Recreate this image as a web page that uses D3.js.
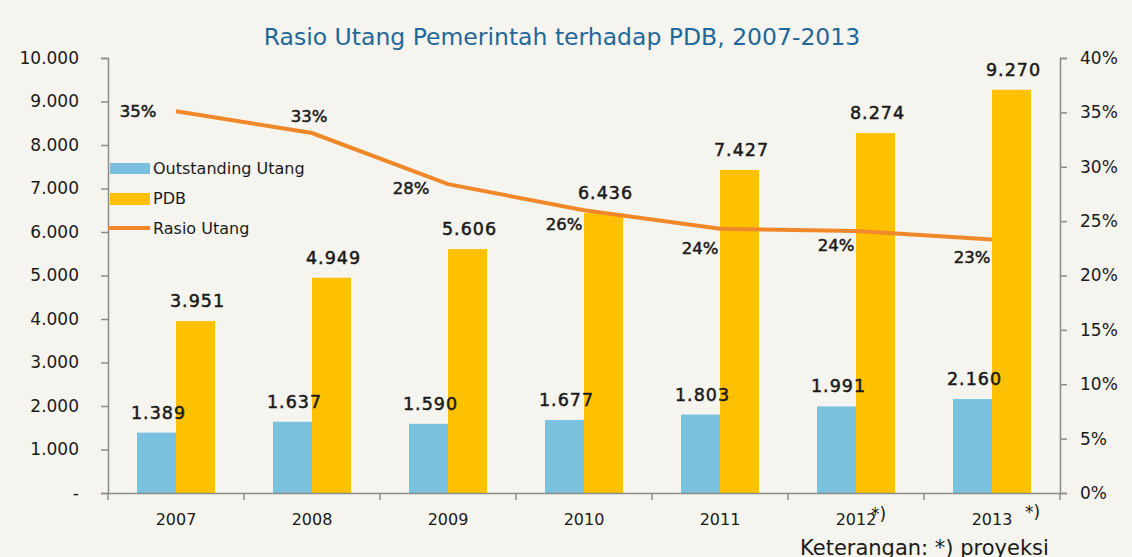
<!DOCTYPE html>
<html>
<head>
<meta charset="utf-8">
<script src="https://cdn.jsdelivr.net/npm/d3@7"></script>
<style>
  body { margin: 0; background: #f5f4ee; }
  svg { display: block; font-family: "DejaVu Sans", sans-serif; }
</style>
</head>
<body>
<script>
// data
const years = ["2007", "2008", "2009", "2010", "2011", "2012", "2013"];
const utang = [1389, 1637, 1590, 1677, 1803, 1991, 2160];
const pdb = [3951, 4949, 5606, 6436, 7427, 8274, 9270];
const rasio = [35.1, 33.1, 28.4, 26.0, 24.3, 24.1, 23.3];
const rasioLabels = ["35%", "33%", "28%", "26%", "24%", "24%", "23%"];
const leftTicks = [0, 1000, 2000, 3000, 4000, 5000, 6000, 7000, 8000, 9000, 10000];
const rightTicks = [0, 5, 10, 15, 20, 25, 30, 35, 40];
const projected = ["2012", "2013"];

const colors = {
    utang: "#7ac1df",
    pdb: "#ffc000",
    rasio: "#f0882a",
    axis: "#8c8c8c",
    title: "#1f6899",
    text: "#1a1a1a"
};

// where each percent label sits relative to its point
const pctOffsets = [[-38, 6], [-3, -11], [-37, 10], [-20, 20], [-20, 25], [-20, 20], [-20, 23]];
// where the "*)" marks sit relative to the band centre
const projOffsets = [[15, 520], [33, 518]];

function fmt(v) {
    return v === 0 ? "-" : d3.format(",")(v).replace(/,/g, ".");
}

function drawChart() {
    const W = 1132, H = 557;
    const m = { left: 108, right: 72, top: 58, bottom: 64 };

    const svg = d3.select("body").append("svg")
        .attr("width", W)
        .attr("height", H);

    svg.append("rect").attr("width", W).attr("height", H).attr("fill", "#f5f4ee");

    const x = d3.scaleBand().domain(years).range([m.left, W - m.right]);
    const y = d3.scaleLinear().domain([0, 10000]).range([H - m.bottom, m.top]);
    const y2 = d3.scaleLinear().domain([0, 40]).range([H - m.bottom, m.top]);
    const barW = 39;

    // title
    svg.append("text")
        .attr("x", 562).attr("y", 45)
        .attr("text-anchor", "middle")
        .attr("fill", colors.title)
        .style("font-size", "23.5px")
        .text("Rasio Utang Pemerintah terhadap PDB, 2007-2013");

    // bars
    const g = svg.append("g");
    g.selectAll(".bar-utang").data(utang).enter().append("rect")
        .attr("class", "bar-utang")
        .attr("x", (d, i) => x(years[i]) + x.bandwidth() / 2 - barW)
        .attr("y", d => y(d))
        .attr("width", barW)
        .attr("height", d => y(0) - y(d))
        .attr("fill", colors.utang);

    g.selectAll(".bar-pdb").data(pdb).enter().append("rect")
        .attr("class", "bar-pdb")
        .attr("x", (d, i) => x(years[i]) + x.bandwidth() / 2)
        .attr("y", d => y(d))
        .attr("width", barW)
        .attr("height", d => y(0) - y(d))
        .attr("fill", colors.pdb);

    // axes
    const axL = svg.append("g")
        .attr("transform", `translate(${m.left},0)`)
        .call(d3.axisLeft(y).tickValues(leftTicks).tickFormat(fmt).tickSizeOuter(0).tickSize(7).tickPadding(22));
    const axR = svg.append("g")
        .attr("transform", `translate(${W - m.right},0)`)
        .call(d3.axisRight(y2).tickValues(rightTicks).tickFormat(d => d + "%").tickSizeOuter(0).tickSize(7).tickPadding(13));
    const axB = svg.append("g")
        .attr("transform", `translate(0,${H - m.bottom})`)
        .call(d3.axisBottom(x).tickSize(0).tickPadding(21));

    // band separator ticks on x axis
    const edges = years.map(d => x(d)).concat([x.range()[1]]);
    axB.selectAll(".sep").data(edges).enter().append("line")
        .attr("class", "sep")
        .attr("x1", d => d).attr("x2", d => d)
        .attr("y1", 0).attr("y2", 7)
        .attr("stroke", colors.axis).attr("stroke-width", 1.5);

    [axL, axR, axB].forEach(a => {
        a.select(".domain").attr("stroke", colors.axis).attr("stroke-width", 1.5);
        a.selectAll(".tick line").attr("stroke", colors.axis).attr("stroke-width", 1.5);
        a.selectAll("text").attr("fill", colors.text).style("font-family", "DejaVu Sans, sans-serif");
    });
    axL.selectAll("text").style("font-size", "17px");
    axR.selectAll("text").style("font-size", "17px");
    axB.selectAll("text").style("font-size", "16px");

    // projection marks
    svg.selectAll(".proj").data(projected).enter().append("text")
        .attr("class", "proj")
        .attr("x", (d, i) => x(d) + x.bandwidth() / 2 + projOffsets[i][0])
        .attr("y", (d, i) => projOffsets[i][1])
        .attr("fill", colors.text)
        .style("font-size", "17px")
        .text("*)");

    // line
    const line = d3.line()
        .x((d, i) => x(years[i]) + x.bandwidth() / 2)
        .y(d => y2(d));
    svg.append("path")
        .datum(rasio)
        .attr("d", line)
        .attr("fill", "none")
        .attr("stroke", colors.rasio)
        .attr("stroke-width", 4);

    // value labels
    const lbl = svg.append("g")
        .attr("fill", colors.text)
        .attr("stroke", colors.text)
        .attr("stroke-width", 0.5)
        .style("font-size", "17.5px")
        .style("letter-spacing", "1px")
        .attr("text-anchor", "middle");
    lbl.selectAll(".lbl-utang").data(utang).enter().append("text")
        .attr("x", (d, i) => x(years[i]) + x.bandwidth() / 2 - barW / 2 + 2)
        .attr("y", d => y(d) - 14)
        .text(fmt);
    lbl.selectAll(".lbl-pdb").data(pdb).enter().append("text")
        .attr("x", (d, i) => x(years[i]) + x.bandwidth() / 2 + barW / 2 + 2)
        .attr("y", d => y(d) - 14)
        .text(fmt);

    svg.append("g")
        .attr("fill", colors.text)
        .attr("stroke", colors.text)
        .attr("stroke-width", 0.5)
        .style("font-size", "16.5px")
        .attr("text-anchor", "middle")
        .selectAll("text").data(rasio).enter().append("text")
        .attr("x", (d, i) => x(years[i]) + x.bandwidth() / 2 + pctOffsets[i][0])
        .attr("y", (d, i) => y2(d) + pctOffsets[i][1])
        .text((d, i) => rasioLabels[i]);

    // legend
    const legend = svg.append("g").style("font-size", "16px").attr("fill", colors.text);
    legend.append("rect").attr("x", 110).attr("y", 163).attr("width", 40).attr("height", 11).attr("fill", colors.utang);
    legend.append("text").attr("x", 153).attr("y", 174).text("Outstanding Utang");
    legend.append("rect").attr("x", 110).attr("y", 193).attr("width", 40).attr("height", 12).attr("fill", colors.pdb);
    legend.append("text").attr("x", 153).attr("y", 204).text("PDB");
    legend.append("line").attr("x1", 108).attr("x2", 150).attr("y1", 228).attr("y2", 228)
        .attr("stroke", colors.rasio).attr("stroke-width", 4);
    legend.append("text").attr("x", 153).attr("y", 234).text("Rasio Utang");

    // note (cropped at the bottom edge, as in the source)
    svg.append("text")
        .attr("x", 800).attr("y", 555)
        .attr("fill", colors.text)
        .style("font-size", "21px")
        .text("Keterangan: *) proyeksi");
}

document.onreadystatechange = () => {
    if (document.readyState === "complete") {
        drawChart();
    }
};
</script>
</body>
</html>
